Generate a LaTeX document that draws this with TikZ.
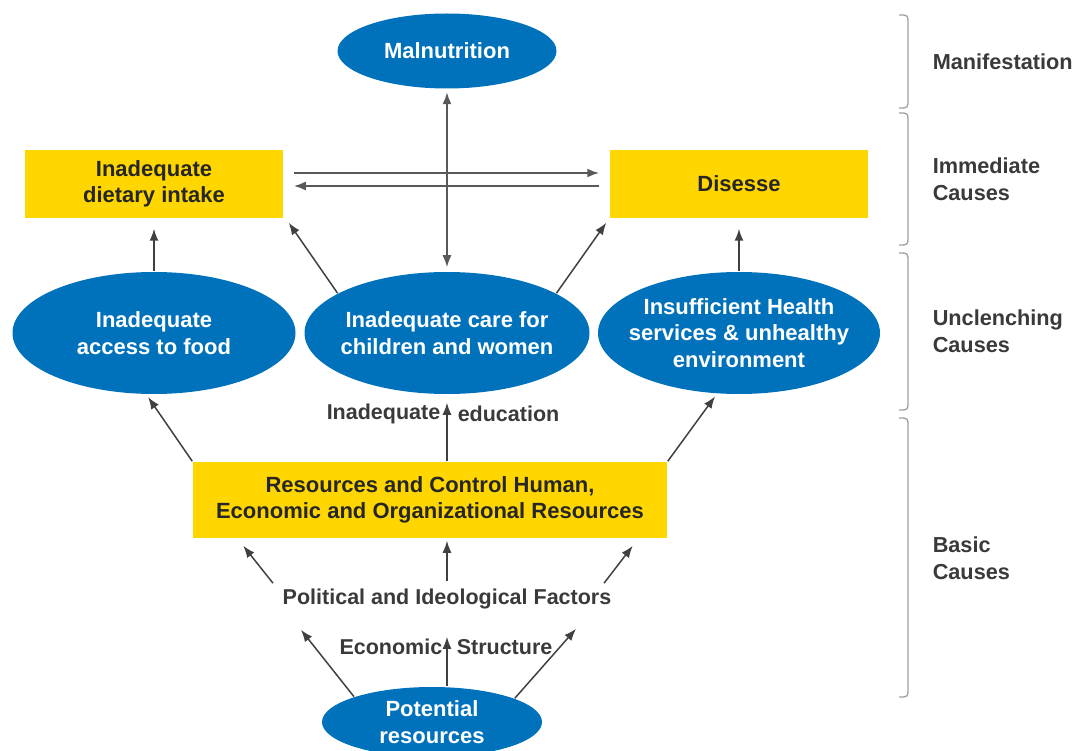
\documentclass[tikz,border=0pt]{standalone}
\usepackage{fontspec}
\setmainfont{Liberation Sans}
\usetikzlibrary{shapes.geometric, arrows.meta}
\definecolor{unblue}{RGB}{0,114,188}
\definecolor{unyellow}{RGB}{255,214,0}
\definecolor{labelgray}{RGB}{58,58,58}

\begin{document}
\begin{tikzpicture}[x=1pt, y=-1pt, line width=1.5pt, draw=black!75, >={Latex[length=12pt,width=9pt]},
  font=\bfseries\fontsize{22}{26.5}\selectfont,
  oval/.style={ellipse, fill=unblue, text=white, align=center, inner xsep=-30pt, inner ysep=-10pt},
  factor/.style={fill=unyellow, text=black!85, align=center, inner sep=0pt},
  lbl/.style={text=labelgray, inner sep=1pt, font=\bfseries\fontsize{21.5}{26}\selectfont},
  tier/.style={text=labelgray, align=left, anchor=west, inner sep=0pt,
    font=\bfseries\fontsize{21.7}{27}\selectfont},
  bracket/.style={draw=gray!75, line width=1.3pt}]
  \useasboundingbox (0,0) rectangle (1074,751);
  \clip (0,0) rectangle (1074,751);
  % manifestation and immediate causes
  \node[oval, minimum width=219pt, minimum height=75pt] (malnut) at (447,51) {Malnutrition};
  \node[factor, minimum width=258pt, minimum height=68pt] (diet) at (154,184) {Inadequate\\dietary intake};
  \node[factor, minimum width=258pt, minimum height=68pt] (disease) at (739,184) {Disesse};
  % underlying causes
  \node[oval, minimum width=283pt, minimum height=122pt] (access) at (154,333) {Inadequate\\access to food};
  \node[oval, minimum width=285pt, minimum height=122pt] (care) at (447,333) {Inadequate care for\\children and women};
  \node[oval, minimum width=282pt, minimum height=122pt] (health) at (739,333) {Insufficient Health\\services \& unhealthy\\environment};
  % basic causes
  \node[lbl, anchor=east] (inadq) at (442,414) {Inadequate};
  \node[lbl, anchor=west] (educ) at (456,414) {education};
  \node[factor, minimum width=474pt, minimum height=76pt] (res) at (430,500) {Resources and Control Human,\\Economic and Organizational Resources};
  \node[lbl] (pol) at (447,599) {Political and Ideological Factors};
  \node[lbl, anchor=east] (econ) at (444,647) {Economic};
  \node[lbl, anchor=west] (struct) at (455,647) {Structure};
  \node[oval, minimum width=220pt, minimum height=70pt] (pot) at (432,722) {Potential\\resources};

  \draw[->, line width=2pt, black!65] ([shift={(10,-11)}]diet.east) -- ([shift={(-10,-11)}]disease.west);
  \draw[->, line width=2pt, black!65] ([shift={(-10,2)}]disease.west) -- ([shift={(10,2)}]diet.east);
  \draw[<->, black!65, line width=1.8pt, shorten <=3pt, shorten >=4pt] (malnut.south) -- (care.north);
  \draw[->, shorten >=10pt] (access.north) -- (diet.south);
  \draw[->] (care.160) -- ([shift={(5,4)}]diet.south east);
  \draw[->] (care.20) -- ([shift={(-3,4)}]disease.south west);
  \draw[->, shorten >=10pt] (health.north) -- (disease.south);

  \draw[->, shorten >=3pt] (res.north west) -- (access.263);
  \draw[->, shorten >=8pt] (care.south |- res.north) -- (care.south);
  \draw[->, shorten >=3pt] (res.north east) -- (health.250);

  \draw[->] ([shift={(-8,-4)}]pol.north west) -- ([shift={(51,7)}]res.south west);
  \draw[->] ([shift={(0,-6)}]pol.north) -- ([shift={(17,2)}]res.south);
  \draw[->] ([shift={(-9,-4)}]pol.north east) -- ([shift={(-35,7)}]res.south east);

  \draw[->] (pot.162) -- ([shift={(20,19)}]pol.south west);
  \draw[->] (pol.south |- pot.north) -- ([shift={(0,26)}]pol.south);
  \draw[->] (pot.16) -- ([shift={(-37,18)}]pol.south east);

  % levels on the right
  \foreach \top/\bot in {15/108, 113/245, 253/410, 418/697} {
    \draw[bracket] (899,\top) .. controls (908,\top) .. (908,\top+9)
      -- (908,\bot-9) .. controls (908,\bot) .. (899,\bot);
  }
  \node[tier] (manif) at (932,62) {Manifestation};
  \node[tier] (immed) at (932,179) {Immediate\\Causes};
  \node[tier] (unclen) at (932,331) {Unclenching\\Causes};
  \node[tier] (basic) at (932,558) {Basic\\Causes};
\end{tikzpicture}
\end{document}
